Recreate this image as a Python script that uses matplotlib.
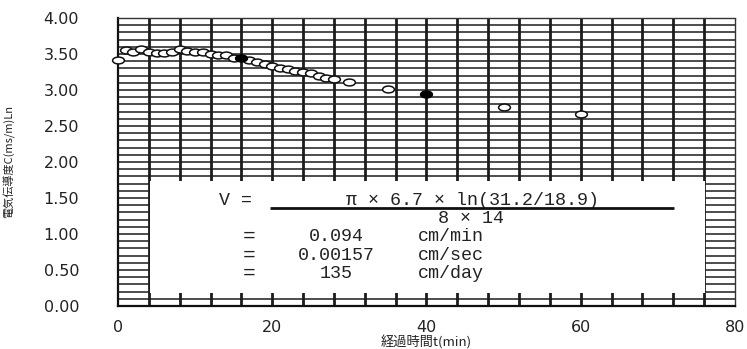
import numpy as np
import matplotlib
matplotlib.use("Agg")
import matplotlib.pyplot as plt
from matplotlib.path import Path
from matplotlib.patches import Rectangle

# ---- data ----
time_open = [0, 1, 2, 3, 4, 5, 6, 7, 8, 9, 10, 11, 12, 13, 14, 15,
             17, 18, 19, 20, 21, 22, 23, 24, 25, 26, 27, 28, 30, 35, 50, 60]
cond_open = [3.42, 3.55, 3.53, 3.57, 3.53, 3.52, 3.52, 3.53, 3.57, 3.54, 3.53,
             3.53, 3.50, 3.48, 3.48, 3.45, 3.42, 3.39, 3.36, 3.33, 3.31, 3.29,
             3.27, 3.25, 3.23, 3.20, 3.17, 3.15, 3.11, 3.02, 2.77, 2.66]
time_filled = [16, 40]
cond_filled = [3.44, 2.94]

x_ticks = [0, 20, 40, 60, 80]
y_ticks = [0.0, 0.5, 1.0, 1.5, 2.0, 2.5, 3.0, 3.5, 4.0]

x_label = "経過時間t(min)"
y_label = "電気伝導度C(ms/m)Ln"

numerator = "π × 6.7 × ln(31.2/18.9)"
denominator = "8 × 14"
values = ["0.094", "0.00157", "135"]
units = ["cm/min", "cm/sec", "cm/day"]

# ---- figure ----
fig = plt.figure(figsize=(7.47, 3.49), dpi=100)
ax = fig.add_axes([118 / 747, 1 - 306 / 349, 617 / 747, 288 / 349])
ax.set_xlim(0, 80)
ax.set_ylim(0, 4.0)

gc = "#1c1c1c"
for xv in np.arange(4, 80, 4):
    ax.axvline(xv, color=gc, lw=2.0, zorder=0.5)
for yv in np.arange(0.1, 3.95, 0.1):
    ax.axhline(yv, color=gc, lw=1.1, zorder=0.5)

# white formula panel covering the grid
ax.add_patch(Rectangle((4.15, 0.18), 72.0, 1.56, facecolor="white",
                       edgecolor="none", zorder=1))

# ellipse marker (wider than tall)
circ = Path.unit_circle()
ell = Path(circ.vertices * np.array([1.0, 0.58]), circ.codes)

ax.plot(time_open, cond_open, linestyle="none", marker=ell, markersize=8.5,
        markerfacecolor="white", markeredgecolor="#111", markeredgewidth=1.1,
        zorder=3, clip_on=False)
ax.plot(time_filled, cond_filled, linestyle="none", marker=ell, markersize=8.5,
        markerfacecolor="black", markeredgecolor="black", markeredgewidth=1.1,
        zorder=4, clip_on=False)

# spines
for s in ["left", "bottom"]:
    ax.spines[s].set_color("#111")
    ax.spines[s].set_linewidth(1.6)
for s in ["top", "right"]:
    ax.spines[s].set_color("#333")
    ax.spines[s].set_linewidth(1.0)
    ax.spines[s].set_linestyle((0, (1, 1)))

ax.set_xticks(x_ticks)
ax.set_xticklabels([str(v) for v in x_ticks])
ax.set_yticks(y_ticks)
ax.set_yticklabels([f"{v:.2f}" for v in y_ticks])
ax.tick_params(axis="both", length=0, labelsize=11.5, colors="#222")
ax.tick_params(axis="y", pad=28)
ax.tick_params(axis="x", pad=10)

cjk = ["Noto Sans CJK JP", "DejaVu Sans"]
ax.set_xlabel(x_label, family=cjk, fontsize=9.5, color="#222",
              va="center", ha="center")
ax.xaxis.set_label_coords(0.5, -0.125)
ax.set_ylabel(y_label, family=cjk, fontsize=8, color="#222",
              va="center", ha="center", rotation=90)
ax.yaxis.set_label_coords(-0.176, 0.5)

# formula text
mono = ["Liberation Mono", "DejaVu Sans Mono"]
tc = "#222"
fs = 13.2
ax.text(15.2, 1.46, "V =", family=mono, fontsize=fs, color=tc,
        ha="center", va="center", zorder=5)
ax.text(46.0, 1.47, numerator, family=mono, fontsize=fs, color=tc,
        ha="center", va="center", zorder=5)
ax.plot([19.7, 72.1], [1.36, 1.36], color="#111", lw=2.0, zorder=5,
        solid_capstyle="butt")
ax.text(45.8, 1.22, denominator, family=mono, fontsize=fs, color=tc,
        ha="center", va="center", zorder=5)
rows_y = [0.97, 0.705, 0.45]
for yv, val, unit in zip(rows_y, values, units):
    ax.text(17.0, yv, "=", family=mono, fontsize=fs + 2, color=tc,
            ha="center", va="center", zorder=5)
    ax.text(28.3, yv, val, family=mono, fontsize=fs, color=tc,
            ha="center", va="center", zorder=5)
    ax.text(38.9, yv, unit, family=mono, fontsize=fs, color=tc,
            ha="left", va="center", zorder=5)

fig.savefig("out.png", dpi=100)
